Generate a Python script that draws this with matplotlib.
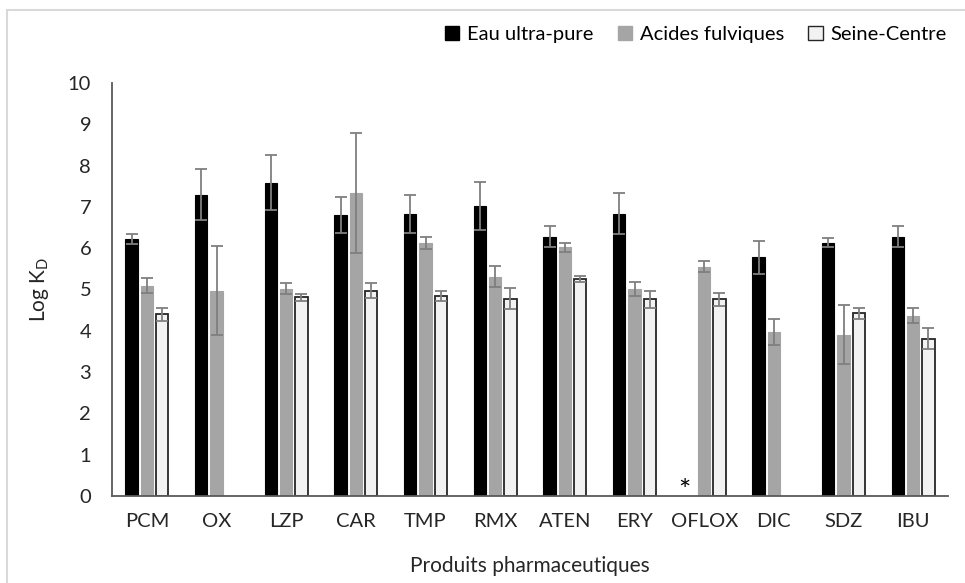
import numpy as np
import matplotlib
matplotlib.use('Agg')
from matplotlib import pyplot as plt
from matplotlib.patches import Patch, Rectangle

plt.rcParams['font.family'] = ['Lato', 'DejaVu Sans']

categories = ['PCM', 'OX', 'LZP', 'CAR', 'TMP', 'RMX', 'ATEN', 'ERY', 'OFLOX', 'DIC', 'SDZ', 'IBU']
nan = np.nan
eau = [6.22, 7.30, 7.59, 6.81, 6.84, 7.03, 6.28, 6.84, nan, 5.78, 6.13, 6.28]
eau_err = [0.12, 0.61, 0.67, 0.43, 0.46, 0.58, 0.25, 0.50, nan, 0.40, 0.11, 0.25]
fulv = [5.09, 4.97, 5.02, 7.34, 6.13, 5.31, 6.02, 5.02, 5.55, 3.97, 3.91, 4.37]
fulv_err = [0.18, 1.08, 0.13, 1.46, 0.14, 0.25, 0.10, 0.17, 0.13, 0.31, 0.71, 0.18]
seine = [4.40, nan, 4.81, 4.97, 4.84, 4.78, 5.26, 4.76, 4.76, nan, 4.42, 3.81]
seine_err = [0.16, nan, 0.08, 0.18, 0.12, 0.25, 0.07, 0.21, 0.15, nan, 0.13, 0.25]
series_names = ['Eau ultra-pure', 'Acides fulviques', 'Seine-Centre']

fig = plt.figure(figsize=(9.65, 5.83), dpi=100)
ax = fig.add_axes([112/965, 1-496/583, (948-112)/965, (496-83)/583])

x = np.arange(len(categories))
off = 0.22
w = 0.175
ekw = dict(ecolor='#7f7f7f', elinewidth=1.3, capsize=4.3, capthick=1.3)

ax.bar(x - off, eau, w, color='black', edgecolor='black', linewidth=0.8, yerr=eau_err, error_kw=ekw, zorder=2)
ax.bar(x, fulv, w, color='#a5a5a5', edgecolor='#a5a5a5', linewidth=0.8, yerr=fulv_err, error_kw=ekw, zorder=2)
ax.bar(x + off, seine, w, color='#f2f2f2', edgecolor='#262626', linewidth=1.3, yerr=seine_err, error_kw=ekw, zorder=2)

# asterisk: no value for OFLOX in ultra-pure water
ax.text(8 - off - 0.07, -0.22, '*', ha='center', va='bottom', fontsize=21, color='black')

ax.set_xlim(-0.5, len(categories) - 0.5)
ax.set_ylim(0, 10)
ax.set_yticks(range(0, 11))
ax.set_xticks(x)
ax.set_xticklabels(categories)
ax.tick_params(axis='both', length=0, labelsize=14.5, colors='#262626')
ax.tick_params(axis='x', pad=12)
ax.tick_params(axis='y', pad=15)
for s in ['top', 'right']:
    ax.spines[s].set_visible(False)
for s in ['left', 'bottom']:
    ax.spines[s].set_color('#595959')
    ax.spines[s].set_linewidth(1.3)

ax.set_xlabel('Produits pharmaceutiques', fontsize=15, color='#262626', labelpad=19)
ax.set_ylabel('Log K$_\\mathregular{D}$', fontsize=15, color='#262626', labelpad=12)

handles = [Patch(facecolor='black', edgecolor='black'),
           Patch(facecolor='#a5a5a5', edgecolor='#a5a5a5'),
           Patch(facecolor='#f2f2f2', edgecolor='#262626')]
fig.legend(handles, series_names, loc='upper right', bbox_to_anchor=(1.0, 1.0 - 8/583),
           ncol=3, frameon=False, fontsize=14.5, handlelength=0.7, handleheight=0.7,
           handletextpad=0.4, columnspacing=1.2)

fig.patches.append(Rectangle((7/965, -0.1), 1.2, 1.1 - 10/583, transform=fig.transFigure,
                             fill=False, edgecolor='#d9d9d9', linewidth=1.5))

fig.savefig('out.png', dpi=100)
